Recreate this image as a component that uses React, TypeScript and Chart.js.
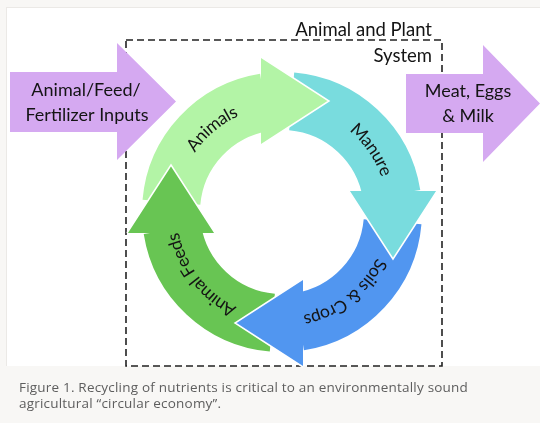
import React, { useEffect, useRef } from "react";
import { Chart, registerables } from "chart.js";

Chart.register(...registerables);

// ---- data ----
const stageLabels = ["Animals", "Manure", "Soils & Crops", "Animal Feeds"];
const stageColors = ["#b3f4a6", "#79dcde", "#5196f0", "#68c553"];
const stageSpanDeg = [76, 76, 76, 76];
const gapSpanDeg = [14, 14, 14, 14];
const labelAngleDeg = [230, 325, 52, 142];
const inputLines = ["Animal/Feed/", "Fertilizer Inputs"];
const outputLines = ["Meat, Eggs", "& Milk"];
const systemLines = ["Animal and Plant", "System"];
const captionLines = [
  "Figure 1. Recycling of nutrients is critical to an environmentally sound",
  "agricultural \u201Ccircular economy\u201D.",
];

const W = 540;
const H = 423;
const FONT = "Lato, 'Open Sans', sans-serif";
const PURPLE = "#d5a9f1";

const rad = (d: number) => (d * Math.PI) / 180;

function drawBlockArrow(
  ctx: CanvasRenderingContext2D,
  x0: number, bodyTop: number, bodyBot: number,
  headX: number, headTop: number, headBot: number, tipX: number
) {
  const tipY = (headTop + headBot) / 2;
  ctx.beginPath();
  ctx.moveTo(x0, bodyTop);
  ctx.lineTo(headX, bodyTop);
  ctx.lineTo(headX, headTop);
  ctx.lineTo(tipX, tipY);
  ctx.lineTo(headX, headBot);
  ctx.lineTo(headX, bodyBot);
  ctx.lineTo(x0, bodyBot);
  ctx.closePath();
  ctx.fillStyle = PURPLE;
  ctx.fill();
}

function drawArcText(
  ctx: CanvasRenderingContext2D, text: string, cx: number, cy: number,
  r: number, centerAngle: number
) {
  const total = ctx.measureText(text).width;
  let a = centerAngle - total / 2 / r;
  for (const ch of text) {
    const w = ctx.measureText(ch).width;
    const ang = a + w / 2 / r;
    ctx.save();
    ctx.translate(cx + r * Math.cos(ang), cy + r * Math.sin(ang));
    ctx.rotate(ang + Math.PI / 2);
    ctx.fillText(ch, 0, 0);
    ctx.restore();
    a += w / r;
  }
}

const cyclePlugin = {
  id: "cycleDecor",
  beforeDatasetsDraw(chart: any) {
    const ctx: CanvasRenderingContext2D = chart.ctx;
    ctx.save();
    ctx.setLineDash([7, 4]);
    ctx.lineWidth = 1.6;
    ctx.strokeStyle = "#222";
    ctx.strokeRect(126, 40, 316, 326);
    ctx.restore();
  },
  afterDatasetsDraw(chart: any) {
    const ctx: CanvasRenderingContext2D = chart.ctx;
    const meta = chart.getDatasetMeta(0);
    ctx.save();
    // arrow heads
    stageLabels.forEach((_, k) => {
      const arc: any = meta.data[k * 2];
      const { x: cx, y: cy, innerRadius, outerRadius, endAngle } = arc.getProps(
        ["x", "y", "innerRadius", "outerRadius", "endAngle"], true
      );
      const rm = (innerRadius + outerRadius) / 2;
      const phi = endAngle + rad(9);
      const px = cx + rm * Math.cos(phi);
      const py = cy + rm * Math.sin(phi);
      const tx = -Math.sin(phi), ty = Math.cos(phi);
      const nx = Math.cos(phi), ny = Math.sin(phi);
      const bx = px - 21 * tx, by = py - 21 * ty;
      const hw = 44;
      const a1 = [bx + hw * nx, by + hw * ny];
      const a2 = [bx - hw * nx, by - hw * ny];
      const tip = [px + 47 * tx, py + 47 * ty];
      ctx.beginPath();
      ctx.moveTo(a1[0], a1[1]);
      ctx.lineTo(tip[0], tip[1]);
      ctx.lineTo(a2[0], a2[1]);
      ctx.closePath();
      ctx.fillStyle = stageColors[k];
      ctx.fill();
      ctx.beginPath();
      ctx.moveTo(a1[0], a1[1]);
      ctx.lineTo(tip[0], tip[1]);
      ctx.lineTo(a2[0], a2[1]);
      ctx.strokeStyle = "#ffffff";
      ctx.lineWidth = 1.5;
      ctx.lineJoin = "miter";
      ctx.stroke();
    });
    // labels along ring
    const arc0: any = meta.data[0];
    const { x: cx, y: cy, innerRadius, outerRadius } = arc0.getProps(
      ["x", "y", "innerRadius", "outerRadius"], true
    );
    const rm = (innerRadius + outerRadius) / 2;
    ctx.font = `17.5px ${FONT}`;
    ctx.fillStyle = "#141414";
    ctx.textAlign = "center";
    ctx.textBaseline = "middle";
    stageLabels.forEach((lab, k) => {
      drawArcText(ctx, lab, cx, cy, rm, rad(labelAngleDeg[k]));
    });

    // input / output block arrows
    drawBlockArrow(ctx, 10, 72, 132, 117, 43, 160, 176);
    drawBlockArrow(ctx, 406, 74, 133, 483, 45, 162, 540);

    ctx.fillStyle = "#141414";
    ctx.font = `18px ${FONT}`;
    ctx.textAlign = "center";
    ctx.textBaseline = "alphabetic";
    ctx.fillText(inputLines[0], 86, 96);
    ctx.fillText(inputLines[1], 87, 121);
    ctx.fillText(outputLines[0], 468, 97);
    ctx.fillText(outputLines[1], 468, 122);

    ctx.textAlign = "right";
    ctx.font = `18.5px ${FONT}`;
    ctx.fillText(systemLines[0], 432, 36);
    ctx.fillText(systemLines[1], 432, 62);
    ctx.restore();
  },
};

export default function App() {
  const ref = useRef<HTMLCanvasElement | null>(null);
  useEffect(() => {
    if (!ref.current) return;
    const data: number[] = [];
    const colors: string[] = [];
    stageSpanDeg.forEach((s, i) => {
      data.push(s, gapSpanDeg[i]);
      colors.push(stageColors[i], "rgba(0,0,0,0)");
    });
    const chart = new Chart(ref.current, {
      type: "doughnut",
      data: {
        labels: stageLabels.flatMap((l) => [l, ""]),
        datasets: [
          {
            data,
            backgroundColor: colors,
            borderWidth: 0,
            hoverOffset: 0,
          },
        ],
      },
      options: {
        responsive: false,
        animation: false,
        events: [],
        rotation: 275,
        radius: 140,
        cutout: `${(82 / 140) * 100}%`,
        layout: { padding: { left: 24, right: 0, top: 1, bottom: 0 } },
        plugins: { legend: { display: false }, tooltip: { enabled: false } },
      },
      plugins: [cyclePlugin],
    });
    return () => chart.destroy();
  }, []);

  return (
    <div
      style={{
        position: "absolute",
        left: 0,
        top: 0,
        width: W,
        height: H,
        background: "#f8f7f5",
        overflow: "hidden",
      }}
    >
      <div
        style={{
          position: "absolute",
          left: 6,
          top: 7,
          width: W - 6,
          height: 359,
          background: "#ffffff",
          borderTop: "1px solid #ebe9e6",
          borderLeft: "1px solid #ebe9e6",
          boxSizing: "border-box",
        }}
      />
      <canvas
        ref={ref}
        width={W}
        height={H}
        style={{ position: "absolute", left: 0, top: 0, width: W, height: H }}
      />
      <div
        style={{
          position: "absolute",
          left: 19,
          top: 379,
          fontFamily: "'Open Sans', sans-serif",
          fontSize: 13.5,
          letterSpacing: "0.2px",
          lineHeight: "16px",
          color: "#5e5e5e",
          whiteSpace: "nowrap",
        }}
      >
        {captionLines[0]}
        <br />
        {captionLines[1]}
      </div>
    </div>
  );
}
